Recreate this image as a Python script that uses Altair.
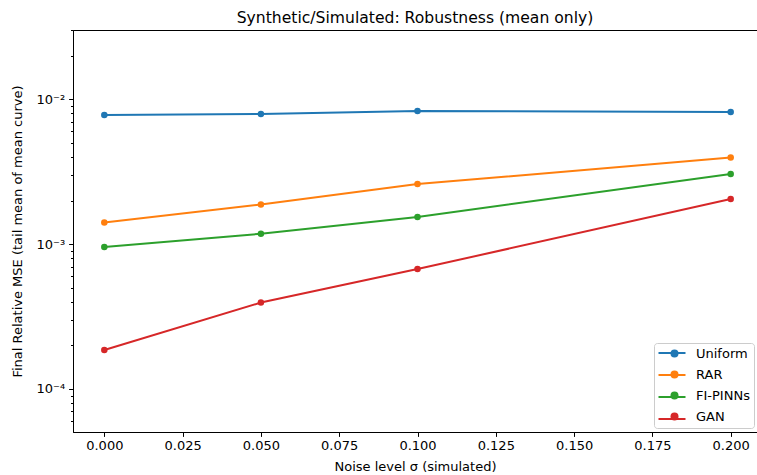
import altair as alt
import pandas as pd

sigma = [0.0, 0.05, 0.1, 0.2]
methods = ["Uniform", "RAR", "FI-PINNs", "GAN"]
uniform = [7.79e-3, 7.91e-3, 8.30e-3, 8.17e-3]
rar = [1.41e-3, 1.88e-3, 2.60e-3, 3.96e-3]
fipinns = [9.55e-4, 1.18e-3, 1.54e-3, 3.05e-3]
gan = [1.86e-4, 3.95e-4, 6.73e-4, 2.05e-3]
colors = ["#1f77b4", "#ff7f0e", "#2ca02c", "#d62728"]

x_ticks = [0.0, 0.025, 0.05, 0.075, 0.1, 0.125, 0.15, 0.175, 0.2]
y_major = [1e-4, 1e-3, 1e-2]
y_minor = [6e-5, 7e-5, 8e-5, 9e-5,
           2e-4, 3e-4, 4e-4, 5e-4, 6e-4, 7e-4, 8e-4, 9e-4,
           2e-3, 3e-3, 4e-3, 5e-3, 6e-3, 7e-3, 8e-3, 9e-3,
           2e-2, 3e-2]

rows = []
for name, vals in zip(methods, [uniform, rar, fipinns, gan]):
    for s, v in zip(sigma, vals):
        rows.append({"sigma": s, "mse": v, "method": name, "method_l": name})
df = pd.DataFrame(rows)

FONT = "DejaVu Sans"
xscale = alt.Scale(domain=[-0.01, 0.2084], nice=False, zero=False)
yscale = alt.Scale(type="log", domain=[5.047e-5, 0.03011], nice=False)

x_enc = alt.X("sigma:Q", scale=xscale,
              axis=alt.Axis(values=x_ticks, format=".3f", title="Noise level σ (simulated)",
                            grid=False, tickSize=4.4, labelPadding=3,
                            titleY=38, titleBaseline="alphabetic"))

# legend part drawn by the lines: short coloured strokes (labels hidden)
line_legend = alt.Legend(
    title=None, orient="none", legendX=580.5, legendY=304.5,
    labelFont=FONT, labelFontSize=13, labelOpacity=0,
    padding=4, symbolType="stroke", symbolSize=729, symbolStrokeWidth=2,
    symbolOpacity=1, labelOffset=10, rowPadding=-9,
)

lines = alt.Chart(df).mark_line(strokeWidth=2).encode(
    x=x_enc,
    y=alt.Y("mse:Q", scale=yscale,
            axis=alt.Axis(values=y_minor, labels=False, tickSize=2.5, grid=False,
                          domain=False, title=None, orient="left")),
    stroke=alt.Stroke("method_l:N", sort=methods, scale=alt.Scale(range=colors),
                      legend=line_legend),
)

label_expr = ("datum.value < 0.0005 ? '10⁻⁴' : (datum.value < 0.005 ? '10⁻³' : '10⁻²')")

# legend part drawn by the markers: filled circles with labels and frame
point_legend = alt.Legend(
    title=None, orient="none", legendX=581, legendY=313,
    labelFont=FONT, labelFontSize=13, labelColor="black",
    strokeColor="#cccccc", fillColor="transparent", cornerRadius=3,
    padding=4, symbolType="circle", symbolSize=64, symbolStrokeWidth=0,
    symbolOffset=10, symbolOpacity=1, labelOffset=15, rowPadding=7,
)

points = alt.Chart(df).mark_point(filled=True, size=42, strokeWidth=1, opacity=1).encode(
    x=alt.X("sigma:Q", scale=xscale),
    y=alt.Y("mse:Q", scale=yscale,
            axis=alt.Axis(values=y_major, labelExpr=label_expr, tickSize=4.4, grid=False,
                          labelPadding=4, orient="left",
                          title="Final Relative MSE (tail mean of mean curve)",
                          titleX=-52, titleBaseline="alphabetic")),
    color=alt.Color("method:N", scale=alt.Scale(domain=methods, range=colors),
                    legend=point_legend),
)

chart = alt.layer(lines, points).resolve_axis(y="independent").properties(
    width=684,
    height=402,
    autosize=alt.AutoSizeParams(type="none"),
    padding={"left": 73, "top": 30, "right": 0, "bottom": 43},
    title=alt.Title("Synthetic/Simulated: Robustness (mean only)", fontSize=15.6,
                    fontWeight="normal", font=FONT, color="black",
                    baseline="alphabetic", offset=8, dy=17, anchor="middle", frame="group"),
).configure_view(
    stroke="black", strokeWidth=1
).configure_axis(
    labelFont=FONT, titleFont=FONT, labelFontSize=13, titleFontSize=13,
    labelColor="black", titleColor="black", domainColor="black", tickColor="black",
    titleFontWeight="normal", domainWidth=1, tickWidth=1,
)

chart.save("out.html", embed_options={"renderer": "svg", "actions": False})
